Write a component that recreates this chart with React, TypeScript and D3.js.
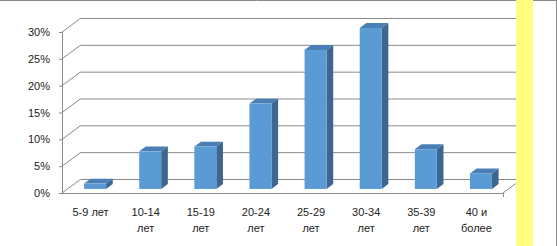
import React from "react";
import * as d3 from "d3";

const categories: string[][] = [
  ["5-9 лет"],
  ["10-14", "лет"],
  ["15-19", "лет"],
  ["20-24", "лет"],
  ["25-29", "лет"],
  ["30-34", "лет"],
  ["35-39", "лет"],
  ["40 и", "более"],
];
const values: number[] = [1, 7, 7.9, 15.9, 25.9, 30, 7.4, 2.9];
const yTicks: number[] = [0, 5, 10, 15, 20, 25, 30];

const W = 557;
const H = 246;
const DX = 19;
const DY = -14;
const F1 = 0.29;
const F2 = 0.64;
const BAR_W = 22;

export default function App() {
  const y = d3.scaleLinear().domain([0, 30]).range([193, 32]);
  const x = d3
    .scaleBand<number>()
    .domain(categories.map((_, i) => i))
    .range([62, 503])
    .paddingInner(0)
    .paddingOuter(0);

  const front = "#5b9bd5";
  const side = "#3d6791";
  const top = "#4a7fb5";
  const grid = "#8a8a8a";

  const x0 = 62;
  const x1 = 503;

  return (
    <div style={{ position: "absolute", left: 0, top: 0 }}>
      <svg width={W} height={H} style={{ display: "block" }} fontFamily="'Liberation Sans', Arial, sans-serif">
        <rect x={0} y={0} width={W} height={H} fill="#fff" />
        {/* back wall gridlines and side wall diagonals */}
        {yTicks.map((t) => (
          <g key={t}>
            <line x1={x0 + DX} x2={x1 + DX} y1={y(t) + DY + 0.5} y2={y(t) + DY + 0.5} stroke={grid} strokeWidth={1} />
            <line x1={x0} y1={y(t)} x2={x0 + DX} y2={y(t) + DY} stroke={grid} strokeWidth={1} />
            <line x1={x0 - 3} x2={x0} y1={y(t) + 0.5} y2={y(t) + 0.5} stroke={grid} strokeWidth={1} />
            <text x={50} y={y(t) + 4} textAnchor="end" fontSize={11} fill="#222">
              {t}%
            </text>
          </g>
        ))}
        {/* floor front line and right diagonal */}
        <line x1={x0} x2={x1} y1={y(0) + 0.5} y2={y(0) + 0.5} stroke={grid} strokeWidth={1} />
        <line x1={x1} y1={y(0)} x2={x1 + DX} y2={y(0) + DY} stroke={grid} strokeWidth={1} />
        <line x1={x1 + 0.5} x2={x1 + 0.5} y1={y(0)} y2={y(0) + 4} stroke={grid} strokeWidth={1} />
        {/* front vertical axis */}
        <line x1={x0 + 0.5} x2={x0 + 0.5} y1={y(30)} y2={y(0)} stroke={grid} strokeWidth={1} />
        {/* bars */}
        {values.map((v, i) => {
          const cx = (x(i) as number) + x.bandwidth() / 2;
          const fx = cx - BAR_W / 2 + DX * F1;
          const fyB = y(0) + DY * F1;
          const fyT = y(v) + DY * F1;
          const ddx = DX * (F2 - F1);
          const ddy = DY * (F2 - F1);
          const rx = fx + BAR_W;
          return (
            <g key={i}>
              <polygon
                points={`${fx},${fyT} ${fx + ddx},${fyT + ddy} ${rx + ddx},${fyT + ddy} ${rx},${fyT}`}
                fill={top}
              />
              <polygon
                points={`${rx},${fyT} ${rx + ddx},${fyT + ddy} ${rx + ddx},${fyB + ddy} ${rx},${fyB}`}
                fill={side}
              />
              <rect x={fx} y={fyT} width={BAR_W} height={fyB - fyT} fill={front} />
            </g>
          );
        })}
        {/* category labels */}
        {categories.map((lines, i) => {
          const cx = (x(i) as number) + x.bandwidth() / 2;
          return (
            <text key={i} x={cx + 1} textAnchor="middle" fontSize={11} fill="#222">
              {lines.map((l, k) => (
                <tspan key={k} x={cx + 1} y={216 + k * 16}>
                  {l}
                </tspan>
              ))}
            </text>
          );
        })}
        {/* frame */}
        <line x1={0} x2={W} y1={0.5} y2={0.5} stroke="#888" strokeWidth={1} />
        <line x1={W - 0.5} x2={W - 0.5} y1={0} y2={H} stroke="#888" strokeWidth={1} />
        {/* yellow band */}
        <rect x={516} y={0} width={17} height={H} fill="#ffff80" />
      </svg>
    </div>
  );
}
